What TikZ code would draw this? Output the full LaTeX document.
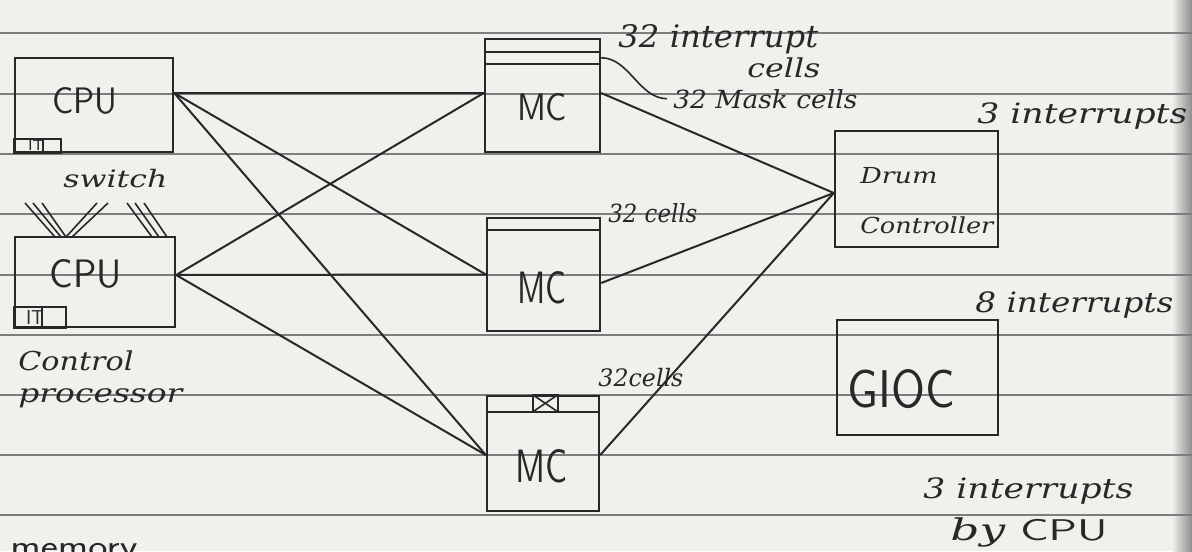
\documentclass[tikz,border=0pt]{standalone}
\usepackage{graphicx}
\usepackage{fontspec}
\newfontfamily\handf{DejaVu Serif}
\definecolor{paper}{RGB}{240,240,236}
\definecolor{ink}{RGB}{40,40,40}
\definecolor{rulec}{RGB}{125,125,125}
\newcommand\hw[3]{\resizebox{#1}{\height}{\fontsize{#2}{#2}\selectfont\handf\itshape #3}}
\newcommand\hwup[3]{\resizebox{#1}{\height}{\fontsize{#2}{#2}\selectfont\sffamily #3}}
\newcommand\capt[3]{\resizebox{#1}{#2}{\sffamily #3}}
\begin{document}
\begin{tikzpicture}[x=0.5pt,y=-0.5pt,
  box/.style={draw=ink,line width=1.2pt,inner sep=0pt,rectangle},
  wire/.style={draw=ink,line width=1pt},
  thinwire/.style={draw=ink,line width=0.8pt},
  rulel/.style={draw=rulec,line width=0.55pt},
  lbl/.style={inner sep=0pt,text=ink,anchor=base west},
  inner/.style={inner sep=0pt,text=ink}]
\useasboundingbox (0,0) rectangle (1192,551);
\clip (0,0) rectangle (1192,551);
\fill[paper] (0,0) rectangle (1192,551);
\shade[left color=paper,right color=black!45] (1172,0) rectangle (1192,551);
% ruled paper lines
\foreach \yy in {33,94,154,214,275,335,395,455,515}
  \draw[rulel] (0,\yy) -- (1192,\yy);

% boxes
\node[box,minimum width=79pt,minimum height=47pt] (cpu1) at (94,105) {};
\node[box,minimum width=80pt,minimum height=45pt] (cpu2) at (95,282) {};
\node[box,minimum width=57.5pt,minimum height=56.5pt] (mc1) at (542.5,95.5) {};
\node[box,minimum width=56.5pt,minimum height=56.5pt] (mc2) at (543.5,274.5) {};
\node[box,minimum width=56pt,minimum height=57.5pt] (mc3) at (543,453.5) {};
\node[box,minimum width=81.5pt,minimum height=58pt] (drum) at (916.5,189) {};
\node[box,minimum width=80.5pt,minimum height=57.5pt] (gioc) at (917.5,377.5) {};

% box texts
\node[inner] (cpu1t) at (85,101) {\capt{32.5pt}{13pt}{CPU}};
\node[inner] (cpu2t) at (86,274) {\capt{36pt}{14pt}{CPU}};
\node[inner] (mc1t) at (542,107) {\capt{25pt}{13.5pt}{MC}};
\node[inner] (mc2t) at (542,288) {\capt{24.5pt}{16pt}{MC}};
\node[inner] (mc3t) at (541,466) {\capt{26pt}{16.5pt}{MC}};
\node[inner] (giot) at (901,389) {\capt{53.5pt}{19pt}{GIOC}};
\node[lbl] (drumt) at (860,183) {\hw{38.5pt}{11}{Drum}};
\node[lbl] (ctrlt) at (860,233) {\hw{66.5pt}{11}{Controller}};

% IT boxes
\draw[thinwire] (cpu1.south west) rectangle ([xshift=23.5pt,yshift=7pt]cpu1.south west);
\draw[thinwire] ([xshift=14.5pt]cpu1.south west) -- ([xshift=14.5pt,yshift=7pt]cpu1.south west);
\node[inner] (it1) at (36,145.5) {\capt{8pt}{5pt}{IT}};
\draw[thinwire] (cpu2.south west) rectangle ([xshift=26pt,yshift=10.5pt]cpu2.south west);
\draw[thinwire] ([xshift=14pt]cpu2.south west) -- ([xshift=14pt,yshift=10.5pt]cpu2.south west);
\node[inner] (it2) at (35,317) {\capt{9pt}{7pt}{IT}};

% MC cell strips
\draw[thinwire] ([yshift=-7pt]mc1.north west) -- ([yshift=-7pt]mc1.north east);
\draw[thinwire] ([yshift=-13pt]mc1.north west) -- ([yshift=-13pt]mc1.north east);
\draw[thinwire] ([yshift=-6.5pt]mc2.north west) -- ([yshift=-6.5pt]mc2.north east);
\draw[thinwire] ([yshift=-8.5pt]mc3.north west) -- ([yshift=-8.5pt]mc3.north east);
\draw[thinwire] ([xshift=23.5pt]mc3.north west) rectangle ([xshift=36pt,yshift=-8.5pt]mc3.north west);
\draw[thinwire] ([xshift=23.5pt]mc3.north west) -- ([xshift=36pt,yshift=-8.5pt]mc3.north west);
\draw[thinwire] ([xshift=36pt]mc3.north west) -- ([xshift=23.5pt,yshift=-8.5pt]mc3.north west);

% switch hatching
\draw[thinwire] (25,203) -- (55,237) (33,203) -- (61,237) (42,203) -- (66,237);
\draw[thinwire] (66,237) -- (97,203) (72,237) -- (108,203);
\draw[thinwire] (127,203) -- (152,237) (135,203) -- (159,237) (144,203) -- (167,237);

% connectors CPU -> MC
\draw[wire] ([yshift=6pt]cpu1.east) -- ([yshift=1.25pt]mc1.west);
\draw[wire] ([yshift=6pt]cpu1.east) -- (mc2.west);
\draw[wire] ([yshift=6pt]cpu1.east) -- ([yshift=-0.75pt]mc3.west);
\draw[wire] ([yshift=3.5pt]cpu2.east) -- ([yshift=1.25pt]mc1.west);
\draw[wire] ([yshift=3.5pt]cpu2.east) -- (mc2.west);
\draw[wire] ([yshift=3.5pt]cpu2.east) -- ([yshift=-0.75pt]mc3.west);
% connectors MC -> Drum
\draw[wire] ([yshift=1.25pt]mc1.east) -- ([yshift=-2pt]drum.west);
\draw[wire] ([yshift=-4.25pt]mc2.east) -- ([yshift=-2pt]drum.west);
\draw[wire] ([yshift=-0.75pt]mc3.east) -- ([yshift=-2pt]drum.west);

% labels
\node[lbl] (sw) at (63,187) {\hw{52pt}{12}{switch}};
\node[lbl] (ctl) at (18,370) {\hw{57.5pt}{13}{Control}};
\node[lbl] (proc) at (18,402) {\hw{82pt}{13}{processor}};
\node[lbl] (intc) at (618,48) {\hw{100pt}{15.5}{32 interrupt}};
\node[lbl] (intc2) at (747,78) {\hw{36.5pt}{13}{cells}};
\node[lbl] (mask) at (673,108) {\hw{92pt}{12.5}{32 Mask cells}};
\node[lbl] (c2) at (608,222) {\hw{44.5pt}{12.5}{32 cells}};
\node[lbl] (c3) at (598,386) {\hw{42.5pt}{12}{32cells}};
\node[lbl] (i3) at (977,123) {\hw{105pt}{14}{3 interrupts}};
\node[lbl] (i8) at (975,312) {\hw{99pt}{14}{8 interrupts}};
\node[lbl] (i3b) at (923,498) {\hw{105pt}{14}{3 interrupts}};
\node[lbl] (bycpu) at (950,540) {\hw{78.5pt}{15}{by \textup{\sffamily CPU}}};
\node[lbl] (mem) at (10,557) {\hwup{63.5pt}{16}{memory}};

% leader to mask cells
\draw[thinwire] ([yshift=-10pt]mc1.north east) .. controls +(14pt,0) and +(-14pt,0) .. ([xshift=-3pt]mask.west);
\end{tikzpicture}
\end{document}
